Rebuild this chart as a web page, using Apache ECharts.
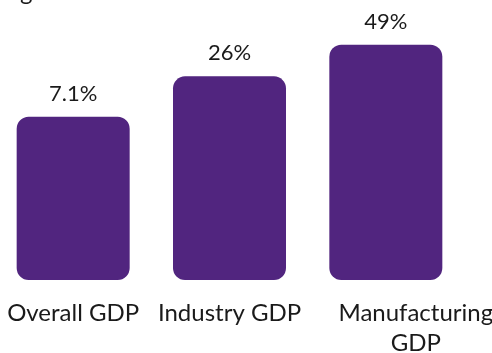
<!DOCTYPE html>
<html>
<head>
<meta charset="utf-8">
<script src="https://cdn.jsdelivr.net/npm/echarts@6/dist/echarts.min.js"></script>
<style>
  html, body { margin: 0; padding: 0; background: #ffffff; }
  #chart { width: 492px; height: 353px; }
</style>
</head>
<body>
<div id="chart"></div>
<script>
// Growth figures per GDP measure
const categories = ['Overall GDP', 'Industry GDP', 'Manufacturing\nGDP'];
const growth = [7.1, 26, 49];
const valueLabels = ['7.1%', '26%', '49%'];

// Bars use a square-root scale with a floor offset so the small value stays readable
const SQRT_FLOOR = -7.17;
const toBarScale = v => Math.sqrt(v) - SQRT_FLOOR;

const FONT = 'Lato, "Open Sans", sans-serif';
const PURPLE = '#51257F';

const chart = echarts.init(document.getElementById('chart'), null, { renderer: 'canvas' });

chart.setOption({
  animation: false,
  backgroundColor: '#ffffff',
  grid: {
    left: -5, right: 28, top: 0, bottom: 73,
    containLabel: false,
    outerBoundsMode: 'none'
  },
  graphic: [{
    type: 'text',
    x: 20,
    y: -20,
    style: { text: 'g', font: '24px ' + FONT, fill: '#1a1a1a' }
  }],
  xAxis: {
    type: 'category',
    data: categories.map((c, i) => i === 2
      ? { value: c, textStyle: { padding: [0, 0, 0, 60] } }
      : c),
    axisLine: { show: false },
    axisTick: { show: false },
    axisLabel: {
      interval: 0,
      margin: 18,
      fontFamily: FONT,
      fontSize: 24,
      lineHeight: 30,
      color: '#1a1a1a'
    }
  },
  yAxis: {
    type: 'value',
    min: 0,
    max: 16.87,
    show: false,
    splitLine: { show: false }
  },
  series: [{
    type: 'bar',
    data: growth.map(toBarScale),
    barWidth: 113,
    itemStyle: { color: PURPLE, borderRadius: 12 },
    label: {
      show: true,
      position: 'top',
      distance: 12,
      fontFamily: FONT,
      fontSize: 22,
      color: '#1a1a1a',
      formatter: p => valueLabels[p.dataIndex]
    }
  }]
});
</script>
</body>
</html>
